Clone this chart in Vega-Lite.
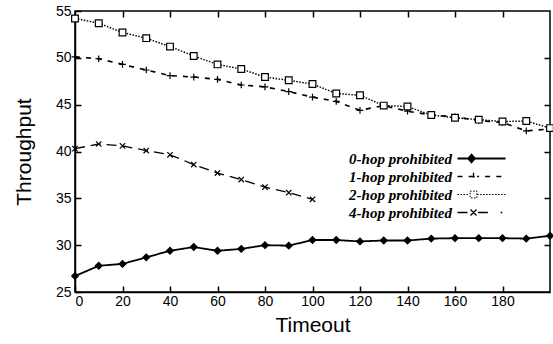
{
  "$schema": "https://vega.github.io/schema/vega-lite/v6.json",
  "width": 475,
  "height": 281,
  "autosize": "none",
  "padding": {"left": 75, "top": 11, "right": 3, "bottom": 52},
  "background": "white",
  "config": {
    "view": {"stroke": "black", "strokeWidth": 1.5},
    "font": "Liberation Sans",
    "axis": {
      "grid": false,
      "domainColor": "black",
      "domainWidth": 1.5,
      "tickColor": "black",
      "tickWidth": 1.5,
      "labelColor": "black",
      "labelFont": "Liberation Sans",
      "labelFontSize": 14,
      "titleFont": "Liberation Sans",
      "titleFontSize": 21,
      "titleFontWeight": "normal",
      "titleColor": "black"
    }
  },
  "data": {
    "values": [
      {"t": 0, "v": 26.7, "s": "0-hop prohibited"},
      {"t": 10, "v": 27.8, "s": "0-hop prohibited"},
      {"t": 20, "v": 28.0, "s": "0-hop prohibited"},
      {"t": 30, "v": 28.7, "s": "0-hop prohibited"},
      {"t": 40, "v": 29.4, "s": "0-hop prohibited"},
      {"t": 50, "v": 29.8, "s": "0-hop prohibited"},
      {"t": 60, "v": 29.4, "s": "0-hop prohibited"},
      {"t": 70, "v": 29.6, "s": "0-hop prohibited"},
      {"t": 80, "v": 30.0, "s": "0-hop prohibited"},
      {"t": 90, "v": 29.95, "s": "0-hop prohibited"},
      {"t": 100, "v": 30.55, "s": "0-hop prohibited"},
      {"t": 110, "v": 30.55, "s": "0-hop prohibited"},
      {"t": 120, "v": 30.4, "s": "0-hop prohibited"},
      {"t": 130, "v": 30.5, "s": "0-hop prohibited"},
      {"t": 140, "v": 30.5, "s": "0-hop prohibited"},
      {"t": 150, "v": 30.7, "s": "0-hop prohibited"},
      {"t": 160, "v": 30.75, "s": "0-hop prohibited"},
      {"t": 170, "v": 30.75, "s": "0-hop prohibited"},
      {"t": 180, "v": 30.75, "s": "0-hop prohibited"},
      {"t": 190, "v": 30.7, "s": "0-hop prohibited"},
      {"t": 200, "v": 31.0, "s": "0-hop prohibited"},
      {"t": 0, "v": 50.1, "s": "1-hop prohibited"},
      {"t": 10, "v": 49.9, "s": "1-hop prohibited"},
      {"t": 20, "v": 49.3, "s": "1-hop prohibited"},
      {"t": 30, "v": 48.7, "s": "1-hop prohibited"},
      {"t": 40, "v": 48.1, "s": "1-hop prohibited"},
      {"t": 50, "v": 47.95, "s": "1-hop prohibited"},
      {"t": 60, "v": 47.7, "s": "1-hop prohibited"},
      {"t": 70, "v": 47.1, "s": "1-hop prohibited"},
      {"t": 80, "v": 46.9, "s": "1-hop prohibited"},
      {"t": 90, "v": 46.4, "s": "1-hop prohibited"},
      {"t": 100, "v": 45.8, "s": "1-hop prohibited"},
      {"t": 110, "v": 45.35, "s": "1-hop prohibited"},
      {"t": 120, "v": 44.4, "s": "1-hop prohibited"},
      {"t": 130, "v": 44.9, "s": "1-hop prohibited"},
      {"t": 140, "v": 44.3, "s": "1-hop prohibited"},
      {"t": 150, "v": 43.9, "s": "1-hop prohibited"},
      {"t": 160, "v": 43.7, "s": "1-hop prohibited"},
      {"t": 170, "v": 43.3, "s": "1-hop prohibited"},
      {"t": 180, "v": 43.1, "s": "1-hop prohibited"},
      {"t": 190, "v": 42.2, "s": "1-hop prohibited"},
      {"t": 200, "v": 42.4, "s": "1-hop prohibited"},
      {"t": 0, "v": 54.2, "s": "2-hop prohibited"},
      {"t": 10, "v": 53.7, "s": "2-hop prohibited"},
      {"t": 20, "v": 52.7, "s": "2-hop prohibited"},
      {"t": 30, "v": 52.1, "s": "2-hop prohibited"},
      {"t": 40, "v": 51.2, "s": "2-hop prohibited"},
      {"t": 50, "v": 50.2, "s": "2-hop prohibited"},
      {"t": 60, "v": 49.3, "s": "2-hop prohibited"},
      {"t": 70, "v": 48.8, "s": "2-hop prohibited"},
      {"t": 80, "v": 47.95, "s": "2-hop prohibited"},
      {"t": 90, "v": 47.6, "s": "2-hop prohibited"},
      {"t": 100, "v": 47.2, "s": "2-hop prohibited"},
      {"t": 110, "v": 46.2, "s": "2-hop prohibited"},
      {"t": 120, "v": 46.0, "s": "2-hop prohibited"},
      {"t": 130, "v": 44.9, "s": "2-hop prohibited"},
      {"t": 140, "v": 44.8, "s": "2-hop prohibited"},
      {"t": 150, "v": 43.9, "s": "2-hop prohibited"},
      {"t": 160, "v": 43.6, "s": "2-hop prohibited"},
      {"t": 170, "v": 43.4, "s": "2-hop prohibited"},
      {"t": 180, "v": 43.2, "s": "2-hop prohibited"},
      {"t": 190, "v": 43.25, "s": "2-hop prohibited"},
      {"t": 200, "v": 42.5, "s": "2-hop prohibited"},
      {"t": 0, "v": 40.3, "s": "4-hop prohibited"},
      {"t": 10, "v": 40.8, "s": "4-hop prohibited"},
      {"t": 20, "v": 40.6, "s": "4-hop prohibited"},
      {"t": 30, "v": 40.1, "s": "4-hop prohibited"},
      {"t": 40, "v": 39.65, "s": "4-hop prohibited"},
      {"t": 50, "v": 38.6, "s": "4-hop prohibited"},
      {"t": 60, "v": 37.7, "s": "4-hop prohibited"},
      {"t": 70, "v": 37.0, "s": "4-hop prohibited"},
      {"t": 80, "v": 36.2, "s": "4-hop prohibited"},
      {"t": 90, "v": 35.6, "s": "4-hop prohibited"},
      {"t": 100, "v": 34.9, "s": "4-hop prohibited"}
    ]
  },
  "layer": [
    {
      "mark": {"type": "line", "color": "black"},
      "encoding": {
        "x": {
          "field": "t", "type": "quantitative",
          "scale": {"domain": [0, 200], "nice": false},
          "axis": {
            "orient": "bottom",
            "values": [0, 20, 40, 60, 80, 100, 120, 140, 160, 180],
            "tickSize": -6,
            "labelPadding": 8,
            "title": "Timeout",
            "titlePadding": 6
          }
        },
        "y": {
          "field": "v", "type": "quantitative",
          "scale": {"domain": [25, 55], "nice": false, "zero": false},
          "axis": {
            "orient": "left",
            "values": [25, 30, 35, 40, 45, 50, 55],
            "tickSize": -6,
            "labelPadding": 10,
            "title": "Throughput",
            "titlePadding": 21
          }
        },
        "strokeDash": {
          "field": "s", "type": "nominal",
          "scale": {"range": [[1, 0], [5, 6], [1.5, 1.5], [10, 6]]},
          "legend": {
            "orient": "none",
            "legendX": 399,
            "legendY": 140,
            "title": null,
            "padding": 0,
            "symbolType": "M-6,0L6,0",
            "symbolSize": 64,
            "symbolStrokeColor": "black",
            "symbolStrokeWidth": 1.3,
            "symbolOpacity": 1,
            "rowPadding": 2,
            "labelAlign": "right",
            "labelOffset": -37,
            "labelFont": "Liberation Serif",
            "labelFontSize": 15,
            "labelFontStyle": "italic",
            "labelFontWeight": "bold",
            "labelColor": "black",
            "labelLimit": 300,
            "encode": {
              "symbols": {
                "update": {
                  "shape": {"signal": "datum.value === '0-hop prohibited' ? 'M-6,0L6,0M-2.5,-0.95L-1.65,0L-2.5,0.95L-3.35,0Z' : datum.value === '1-hop prohibited' ? 'M-6,0L-4.7,0M-3.2,0L-2.9,0M-1.1,0L-0.6,0M0.9,0L2.2,0M3.7,0L5,0M-2.95,0L-1.05,0M-2,-0.95L-2,0.95' : datum.value === '2-hop prohibited' ? 'M-6,0L-5.6,0M-5.25,0L-4.85,0M-4.5,0L-4.1,0M-3.75,0L-3.35,0M-1.1,0L-0.7,0M-0.35,0L0.05,0M0.4,0L0.8,0M1.15,0L1.55,0M1.9,0L2.3,0M2.65,0L3.05,0M3.4,0L3.8,0M4.15,0L4.55,0M4.9,0L5.3,0M5.65,0L6,0M-2.85,-0.85L-1.15,-0.85L-1.15,0.85L-2.85,0.85Z' : 'M-6,0L-3.1,0M-0.9,0L1.9,0M4.8,0L5.2,0M-2.75,-0.75L-1.25,0.75M-2.75,0.75L-1.25,-0.75'"},
                  "fill": {"signal": "datum.value === '0-hop prohibited' ? 'black' : 'transparent'"},
                  "stroke": {"value": "black"},
                  "strokeWidth": {"signal": "datum.value === '0-hop prohibited' ? 1.8 : datum.value === '2-hop prohibited' ? 1 : 1.3"},
                  "strokeDash": {"value": [1, 0]}
                }
              }
            }
          }
        },
        "strokeWidth": {
          "field": "s", "type": "nominal",
          "scale": {"domain": ["0-hop prohibited", "1-hop prohibited", "2-hop prohibited", "4-hop prohibited"], "range": [1.8, 1.3, 1.0, 1.4]},
          "legend": null
        }
      }
    },
    {
      "mark": {"type": "point", "stroke": "black", "strokeWidth": 1.2, "size": 45, "opacity": 1},
      "encoding": {
        "x": {"field": "t", "type": "quantitative", "axis": null},
        "y": {"field": "v", "type": "quantitative", "axis": null},
        "shape": {
          "field": "s", "type": "nominal",
          "scale": {
            "domain": ["0-hop prohibited", "1-hop prohibited", "2-hop prohibited", "4-hop prohibited"],
            "range": ["diamond", "M-1,0L1,0M0,-1L0,1", "square", "M-0.8,-0.8L0.8,0.8M-0.8,0.8L0.8,-0.8"]
          },
          "legend": null
        },
        "fill": {
          "field": "s", "type": "nominal",
          "scale": {"domain": ["0-hop prohibited", "1-hop prohibited", "2-hop prohibited", "4-hop prohibited"], "range": ["black", "white", "white", "white"]},
          "legend": null
        }
      }
    },
    {
      "mark": {"type": "point", "opacity": 0},
      "encoding": {
        "x": {
          "field": "t", "type": "quantitative",
          "axis": {"orient": "top", "values": [20, 40, 60, 80, 100, 120, 140, 160, 180], "tickSize": -6, "labels": false, "title": null, "domain": false}
        },
        "y": {
          "field": "v", "type": "quantitative",
          "axis": {"orient": "right", "values": [30, 35, 40, 45, 50], "tickSize": -6, "labels": false, "title": null, "domain": false}
        }
      }
    }
  ],
  "resolve": {"axis": {"x": "independent", "y": "independent"}}
}
